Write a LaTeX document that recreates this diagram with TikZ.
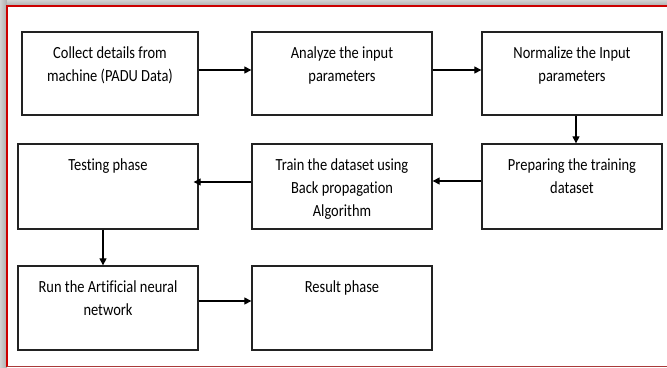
\documentclass[tikz,border=0pt]{standalone}
\usepackage{fontspec}
\setmainfont{Carlito}[FakeStretch=0.85, Ligatures=NoCommon]
\usetikzlibrary{arrows.meta}
\definecolor{framered}{HTML}{CC0000}
\definecolor{boxline}{HTML}{222222}

\begin{document}
\begin{tikzpicture}[x=1pt, y=-1pt, >={Triangle[length=7pt,width=7pt]},
  stagetext/.style={anchor=north, inner sep=0pt, yshift=-15pt, align=center, font=\fontsize{17}{23}\selectfont},
  stage/.style={draw=boxline, line width=1.3pt, minimum width=180pt, minimum height=84pt, inner sep=0pt,
    label={[stagetext]north:{#1}}},
  flow/.style={->, line width=1.1pt, draw=black}]
  \useasboundingbox (0,0) rectangle (667,367);

  % Page frame with shadow
  \shade[left color=gray!35, right color=gray!65] (0,0) rectangle (7,367);
  \shade[top color=gray!35, bottom color=gray!65] (7,0) rectangle (667,6);
  \draw[framered, line width=2pt] (7,367) -- (7,6) -- (667,6);
  \draw[framered!55!gray, line width=0.8pt] (7,366) -- (667,366);

  % First row
  \node[stage={Collect details from\\machine (PADU Data)}, minimum width=176pt, minimum height=83pt] (collect) at (110,73.5) {};
  \node[stage={Analyze the input\\parameters}, minimum height=83pt] (analyze) at (342,73.5) {};
  \node[stage={Normalize the Input\\parameters}, minimum height=83pt] (normalize) at (572,73.5) {};

  % Second row
  \node[stage={Testing phase}, minimum height=85pt] (testing) at (108,186.5) {};
  \node[stage={Train the dataset using\\Back propagation\\Algorithm}, minimum height=85pt] (train) at (342,186.5) {};
  \node[stage={Preparing the training\\dataset}, minimum height=85pt] (prepare) at (572,186.5) {};

  % Third row
  \node[stage={Run the Artificial neural\\network}] (run) at (108,308) {};
  \node[stage={Result phase}] (result) at (342,308) {};

  \draw[flow] ([yshift=3.5pt]collect.east) -- ([yshift=3.5pt]analyze.west);
  \draw[flow] ([yshift=3.5pt]analyze.east) -- ([yshift=3.5pt]normalize.west);
  \draw[flow] ([xshift=4pt]normalize.south) -- ([xshift=4pt]prepare.north);
  \draw[flow] ([yshift=5.5pt]prepare.west) -- ([yshift=5.5pt]train.east);
  \draw[flow, shorten >=-5pt] ([yshift=4.5pt]train.west) -- ([yshift=4.5pt]testing.east);
  \draw[flow] ([xshift=-5pt]testing.south) -- ([xshift=-5pt]run.north);
  \draw[flow] ([yshift=7pt]run.east) -- ([yshift=7pt]result.west);
\end{tikzpicture}
\end{document}
